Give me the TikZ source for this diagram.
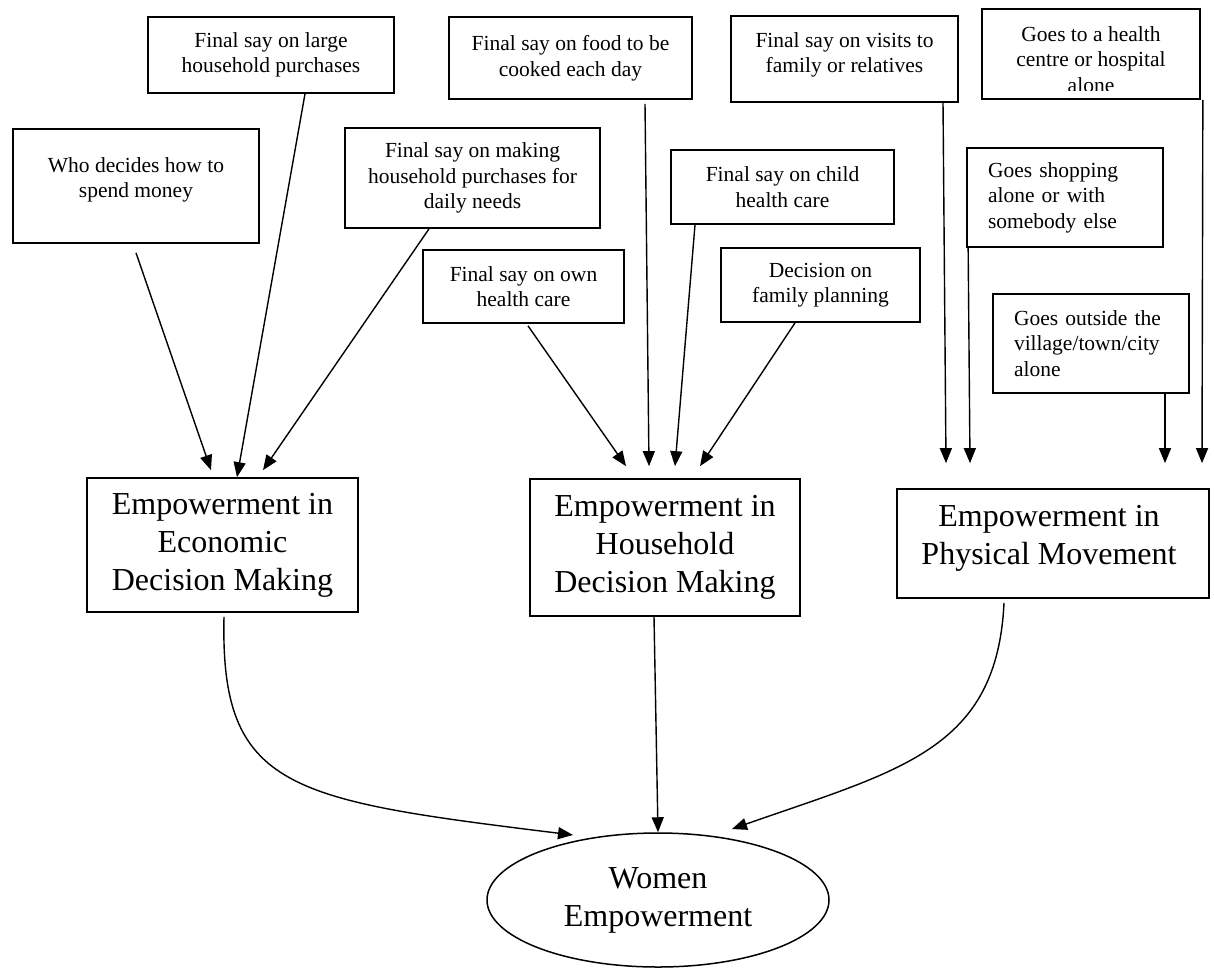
\documentclass[tikz,border=0pt]{standalone}
\usepackage{fontspec}
\setmainfont{Liberation Serif}
\usetikzlibrary{arrows.meta,shapes.geometric}
\begin{document}
\begin{tikzpicture}[x=1pt,y=-1pt,
  box/.style={draw, line width=1.7pt, inner sep=0pt, align=center, font=\fontsize{21.5}{25.5}\selectfont},
  leftbox/.style={box, align=left, inner xsep=21pt, text width=154pt},
  bigbox/.style={draw, line width=1.7pt, inner sep=0pt, align=center, font=\fontsize{32}{38}\selectfont},
  txt/.style={inner sep=0pt, align=center, font=\fontsize{21.5}{25.5}\selectfont},
  bigtxt/.style={inner sep=0pt, align=center, font=\fontsize{32}{38}\selectfont},
  conn/.style={line width=1.4pt, -{Triangle[length=15pt,width=12pt]}},
]
\useasboundingbox (0,0) rectangle (1214,969);

% indicator boxes
\node[box, minimum width=246pt, minimum height=76pt] (large) at (271,55) {Final say on large\\household purchases};
\node[box, minimum width=246pt, minimum height=114pt] (who) at (136,186) {};
\node[txt] (whotxt) at (136,180) {Who decides how to\\spend money};
\node[box, minimum width=255pt, minimum height=100pt] (daily) at (472.5,178) {Final say on making\\household purchases for\\daily needs};
\node[box, minimum width=243pt, minimum height=82pt] (food) at (570.5,58) {Final say on food to be\\cooked each day};
\node[box, minimum width=227pt, minimum height=86pt] (visits) at (844.5,59) {};
\node[txt] (visitstxt) at (844.5,55) {Final say on visits to\\family or relatives};
\node[box, minimum width=218pt, minimum height=90pt] (hc) at (1091,54) {};
\begin{scope}
  \clip (982,9) rectangle (1200,90);
  \node[txt] (hctxt) at (1091,59.5) {Goes to a health\\centre or hospital\\alone};
\end{scope}
\node[box, minimum width=223pt, minimum height=74pt] (child) at (782.5,187) {Final say on child\\health care};
\node[box, minimum width=201pt, minimum height=73pt] (own) at (523.5,286.5) {Final say on own\\health care};
\node[box, minimum width=199pt, minimum height=74pt] (fam) at (820.5,285) {Decision on\\family planning};
\node[leftbox, minimum height=99pt] (shop) at (1065,197.5) {Goes shopping\\alone or with\\somebody else};
\node[leftbox, minimum height=99pt] (out) at (1091,343.5) {Goes outside the\\village/town/city\\alone};

% dimension boxes
\node[bigbox, minimum width=271pt, minimum height=134pt] (econ) at (222.5,545) {Empowerment in\\Economic\\Decision Making};
\node[bigbox, minimum width=270pt, minimum height=137pt] (hh) at (665,547.5) {Empowerment in\\Household\\Decision Making};
\node[bigbox, minimum width=312pt, minimum height=109pt] (phys) at (1053,543.5) {};
\node[bigtxt] (phystxt) at (1049,538.5) {Empowerment in\\Physical Movement};

% outcome
\node[draw, ellipse, line width=1.5pt, inner sep=0pt, minimum width=342pt, minimum height=134pt, align=center, font=\fontsize{32}{38}\selectfont] (women) at (658,900) {Women\\Empowerment};

% free arrow ends
\coordinate (t1) at ([shift={(-11.5pt,7pt)}]econ.north);
\coordinate (t3) at ([shift={(40.5pt,7pt)}]econ.north);
\coordinate (t4) at ([shift={(-39pt,12pt)}]hh.north);
\coordinate (t5) at ([shift={(-16pt,12pt)}]hh.north);
\coordinate (t6) at ([shift={(10pt,12pt)}]hh.north);
\coordinate (t7) at ([shift={(35pt,12pt)}]hh.north);
\coordinate (t8) at ([shift={(-107pt,25pt)}]phys.north);
\coordinate (t9) at ([shift={(-83pt,25pt)}]phys.north);
\coordinate (t10) at ([shift={(112pt,25pt)}]phys.north);
\coordinate (t11) at ([shift={(149pt,25pt)}]phys.north);
\coordinate (w1) at ([shift={(-85pt,65pt)}]women.center);
\coordinate (w3) at ([shift={(74pt,71pt)}]women.center);

% indicator arrows
\draw[conn] ([yshift=-9pt]who.south) -- (t1);
\draw[conn] ([xshift=34pt]large.south) -- ([xshift=14.5pt]econ.north);
\draw[conn] ([xshift=-43.5pt]daily.south) -- (t3);
\draw[conn] ([shift={(4.5pt,-2pt)}]own.south) -- (t4);
\draw[conn] ([shift={(74.5pt,-4pt)}]food.south) -- (t5);
\draw[conn] ([xshift=-87.5pt]child.south) -- (t6);
\draw[conn] ([xshift=-25.5pt]fam.south) -- (t7);
\draw[conn] ([xshift=98.5pt]visits.south) -- (t8);
\draw[conn] ([xshift=2pt]shop.south west) -- (t9);
\draw[conn] ([xshift=74pt]out.south) -- (t10);
\draw[conn] ([xshift=2pt]hc.south east) -- (t11);

% dimension arrows
\draw[conn] ([shift={(1.5pt,-4pt)}]econ.south) .. controls (220,790) and (290,800) .. (w1);
\draw[conn] ([xshift=-11pt]hh.south) -- (women.north);
\draw[conn] ([shift={(-49pt,-4pt)}]phys.south) .. controls (997,750) and (900,770) .. (w3);
\end{tikzpicture}
\end{document}
